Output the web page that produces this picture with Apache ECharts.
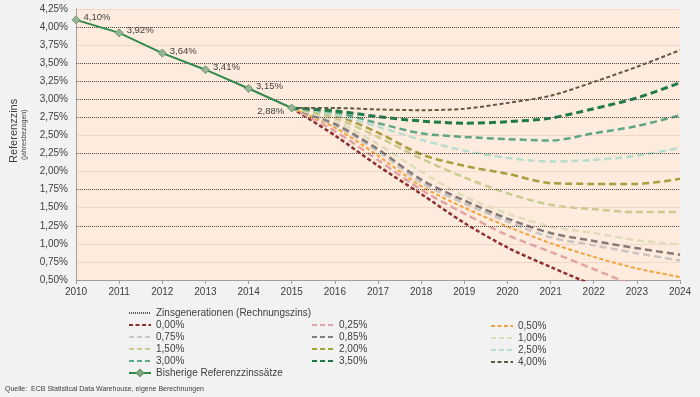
<!DOCTYPE html>
<html>
<head>
<meta charset="utf-8">
<script src="https://cdn.jsdelivr.net/npm/echarts@6/dist/echarts.min.js"></script>
<style>
  html, body { margin: 0; padding: 0; background: #f2f2f2; }
  #main { width: 700px; height: 397px; }
</style>
</head>
<body>
<div id="main"></div>
<script>
// Jahre (x-Achse)
var years = ['2010', '2011', '2012', '2013', '2014', '2015', '2016', '2017',
  '2018', '2019', '2020', '2021', '2022', '2023', '2024'];

// Bisherige Referenzzinssätze 2010-2015
var bisherige = [4.10, 3.92, 3.64, 3.41, 3.15, 2.88];

// Zinsgenerationen (Rechnungszins), gepunktete Linien
var rechnungszins = [4.00, 3.50, 3.25, 3.00, 2.75, 2.25, 1.75, 1.25];

// Szenarien 2015-2024
var z000 = [2.88, 2.50, 2.08, 1.69, 1.29, 0.95, 0.68, 0.43, 0.22, 0.05];
var z025 = [2.88, 2.56, 2.16, 1.75, 1.42, 1.12, 0.89, 0.65, 0.41, 0.20];
var z050 = [2.88, 2.61, 2.22, 1.80, 1.50, 1.24, 1.01, 0.82, 0.66, 0.54];
var z075 = [2.88, 2.64, 2.28, 1.85, 1.56, 1.31, 1.09, 0.98, 0.87, 0.77];
var z085 = [2.88, 2.66, 2.31, 1.89, 1.60, 1.35, 1.15, 1.04, 0.94, 0.85];
var z100 = [2.88, 2.70, 2.38, 2.00, 1.66, 1.42, 1.24, 1.15, 1.05, 0.99];
var z150 = [2.88, 2.74, 2.48, 2.18, 1.92, 1.70, 1.54, 1.48, 1.44, 1.44];
var z200 = [2.88, 2.78, 2.54, 2.24, 2.08, 1.97, 1.84, 1.83, 1.83, 1.90];
var z250 = [2.88, 2.79, 2.62, 2.44, 2.29, 2.19, 2.14, 2.16, 2.22, 2.33];
var z300 = [2.88, 2.82, 2.67, 2.53, 2.48, 2.45, 2.43, 2.53, 2.63, 2.78];
var z350 = [2.88, 2.84, 2.76, 2.70, 2.67, 2.69, 2.74, 2.87, 3.02, 3.23];
var z400 = [2.88, 2.88, 2.86, 2.85, 2.87, 2.95, 3.05, 3.24, 3.45, 3.68];

var font = 'Liberation Sans, Arial, sans-serif';

function pct(v) {
  return v.toFixed(2).replace('.', ',') + '%';
}

// vor 2015 keine Werte
function ab2015(arr) {
  return [null, null, null, null, null].concat(arr);
}

function szenario(name, data, color, width, dash) {
  return {
    name: name,
    type: 'line',
    data: ab2015(data),
    smooth: 0.3,
    symbol: 'none',
    z: 3,
    lineStyle: { color: color, width: width, type: dash, cap: 'butt' },
    itemStyle: { color: color }
  };
}

var kurz = [4, 2.5];
var lang = [7, 4];
var kurzeReihen = ['0,00%', '0,50%', '4,00%'];

// Legendenspalte ohne Symbol, nur Linie
function spalte(names, left, top) {
  return {
    data: names.map(function (n) {
      return kurzeReihen.indexOf(n) >= 0 ? n : { name: n, lineStyle: { type: [5, 3] } };
    }),
    orient: 'vertical', left: left, top: top,
    itemWidth: 22, itemHeight: 8, itemGap: 0,
    itemStyle: { color: 'rgba(0,0,0,0)', borderWidth: 0 },
    textStyle: { fontSize: 10, color: '#404040', fontFamily: font, lineHeight: 12 }
  };
}

var chart = echarts.init(document.getElementById('main'));

var option = {
  backgroundColor: '#f2f2f2',
  animation: false,
  textStyle: { fontFamily: font },
  grid: {
    left: 76, right: 20, top: 9, bottom: 117,
    show: true, backgroundColor: '#fdebdd', borderWidth: 0
  },
  legend: [
    {
      data: ['Zinsgenerationen (Rechnungszins)'],
      left: 123, top: 302, itemWidth: 22, itemHeight: 8,
      itemStyle: { color: 'rgba(0,0,0,0)', borderWidth: 0 },
      textStyle: { fontSize: 10, color: '#404040', fontFamily: font, lineHeight: 12 }
    },
    spalte(['0,00%', '0,75%', '1,50%', '3,00%'], 123, 314),
    spalte(['0,25%', '0,85%', '2,00%', '3,50%'], 306, 314),
    spalte(['0,50%', '1,00%', '2,50%', '4,00%'], 485, 315),
    {
      data: ['Bisherige Referenzzinssätze'],
      left: 123, top: 363, itemWidth: 22, itemHeight: 8,
      textStyle: { fontSize: 10, color: '#404040', fontFamily: font }
    }
  ],
  xAxis: {
    type: 'category',
    data: years,
    boundaryGap: false,
    axisLine: { lineStyle: { color: '#a0a0a0' } },
    axisTick: { show: true, length: 4, lineStyle: { color: '#a0a0a0' } },
    axisLabel: { fontSize: 10, color: '#404040', margin: 7, fontFamily: font },
    splitLine: { show: false }
  },
  yAxis: {
    type: 'value',
    min: 0.5, max: 4.25, interval: 0.25,
    axisLine: { show: true, lineStyle: { color: '#a0a0a0' } },
    axisTick: { show: false },
    axisLabel: { fontSize: 10, color: '#404040', margin: 8, fontFamily: font, formatter: pct },
    splitLine: { show: true, lineStyle: { color: '#f3d7c6', width: 1 } }
  },
  graphic: [
    {
      type: 'text', x: 8, y: 163, rotation: Math.PI / 2,
      style: { text: 'Referenzzins', fontSize: 11, fill: '#404040', fontFamily: font }
    },
    {
      type: 'text', x: 21, y: 160, rotation: Math.PI / 2,
      style: { text: '(jahresbezogen)', fontSize: 7, fill: '#404040', fontFamily: font }
    },
    {
      type: 'text', left: 5, top: 386,
      style: { text: 'Quelle:  ECB Statistical Data Warehouse, eigene Berechnungen', fontSize: 7, fill: '#404040', fontFamily: font }
    }
  ],
  series: [
    {
      name: 'Zinsgenerationen (Rechnungszins)',
      type: 'line',
      data: years.map(function () { return null; }),
      symbol: 'none',
      z: 1,
      lineStyle: { color: '#555555', width: 1, type: [1, 1] },
      itemStyle: { color: '#555555' },
      markLine: {
        silent: true,
        symbol: 'none',
        label: { show: false },
        lineStyle: { color: '#555555', width: 1, type: [1, 1] },
        data: rechnungszins.map(function (r) { return { yAxis: r }; })
      }
    },
    szenario('0,00%', z000, '#8e2f2f', 2.5, kurz),
    szenario('0,25%', z025, '#e3a3a3', 2.5, lang),
    szenario('0,50%', z050, '#f4a43c', 2, kurz),
    szenario('0,75%', z075, '#cac4c2', 2.5, lang),
    szenario('0,85%', z085, '#847b79', 2.5, lang),
    szenario('1,00%', z100, '#dfdcba', 2.5, lang),
    szenario('1,50%', z150, '#cbcb90', 2.5, lang),
    szenario('2,00%', z200, '#a99e3e', 2.5, lang),
    szenario('2,50%', z250, '#b7ddd1', 2.5, lang),
    szenario('3,00%', z300, '#5ea684', 2.5, lang),
    szenario('3,50%', z350, '#1e7a46', 3, lang),
    szenario('4,00%', z400, '#5f5a40', 2, kurz),
    {
      name: 'Bisherige Referenzzinssätze',
      type: 'line',
      data: bisherige.map(function (v, i) {
        return i === bisherige.length - 1
          ? { value: v, label: { position: 'left', offset: [0, 3] } }
          : v;
      }),
      symbol: 'diamond',
      symbolSize: 8,
      z: 5,
      lineStyle: { color: '#2f8a4c', width: 2 },
      itemStyle: { color: '#97b596', borderColor: '#6f9a70', borderWidth: 1 },
      label: {
        show: true,
        position: 'right',
        distance: 3,
        offset: [0, -2],
        fontSize: 9.5,
        color: '#404040',
        fontFamily: font,
        formatter: function (p) { return pct(p.value); }
      }
    }
  ]
};

chart.setOption(option);
</script>
</body>
</html>
